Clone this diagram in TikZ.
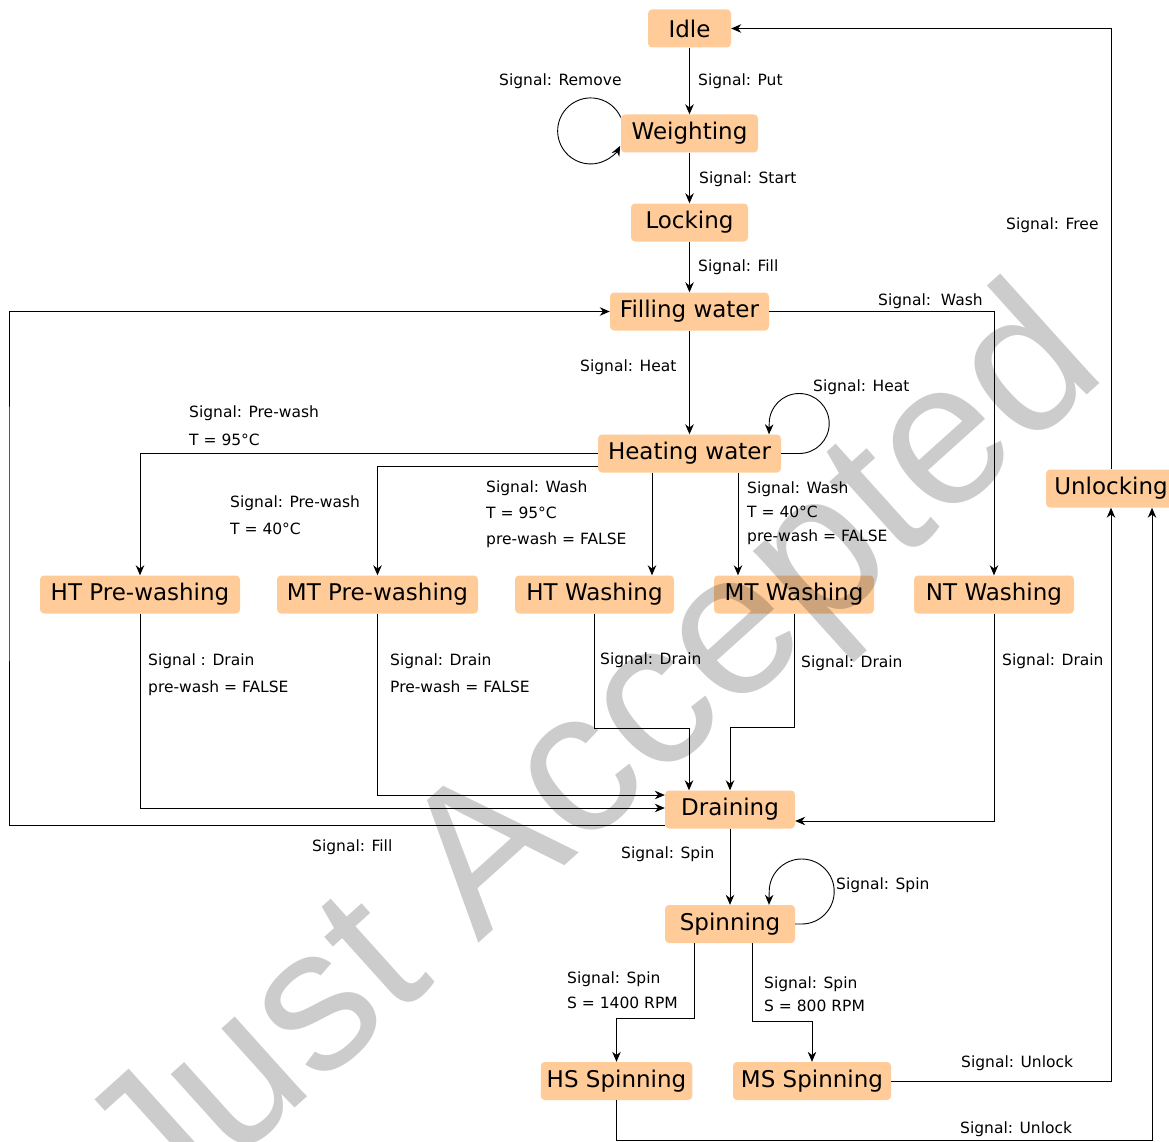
\documentclass[tikz,border=0pt]{standalone}
\usepackage{fontspec}
\setmainfont{DejaVu Sans}
\newfontfamily\wmfont{Liberation Sans}
\usetikzlibrary{arrows.meta}
\definecolor{statefill}{RGB}{255,204,153}

\tikzset{
    state/.style={fill=statefill, rounded corners=4pt, minimum height=38pt,
        inner xsep=6pt, font=\fontsize{23}{27}\selectfont},
    edge/.style={-{Stealth[length=10pt,width=8.5pt]}, line width=0.9pt},
    sig/.style={anchor=north west, inner sep=0pt, align=left,
        font=\fontsize{15.5}{27}\selectfont},
    wm/.style={anchor=base west, inner sep=0pt, rotate=42, text=black,
        text opacity=0.2, font=\wmfont\fontsize{204}{204}\selectfont}
}

\begin{document}
\begin{tikzpicture}[x=1pt,y=1pt]
        \useasboundingbox (0,0) rectangle (1169,-1142);

        \node[state, minimum width=83] (idle) at (689.5,-28.5) {Idle};
        \node[state, minimum width=137] (wei) at (689.5,-133.5) {Weighting};
        \node[state, minimum width=117] (lock) at (689.5,-222.5) {Locking};
        \node[state, minimum width=159] (fill) at (689.5,-311.5) {Filling water};
        \node[state, minimum width=183] (heat) at (689.5,-453.5) {Heating water};
        \node[state, minimum width=200] (htpre) at (140,-594.5) {HT Pre-washing};
        \node[state, minimum width=201] (mtpre) at (377.5,-594.5) {MT Pre-washing};
        \node[state, minimum width=159] (htw) at (594.5,-594.5) {HT Washing};
        \node[state, minimum width=160] (mtw) at (794,-594.5) {MT Washing};
        \node[state, minimum width=160] (ntw) at (994,-594.5) {NT Washing};
        \node[state, minimum width=130] (unl) at (1111,-488.5) {Unlocking};
        \node[state, minimum width=130] (drain) at (730,-809.5) {Draining};
        \node[state, minimum width=130] (spin) at (730,-924) {Spinning};
        \node[state, minimum width=151] (hss) at (616.5,-1081) {HS Spinning};
        \node[state, minimum width=158] (mss) at (812,-1081) {MS Spinning};
        \coordinate (lft) at (9,-500);

        \draw[edge] (idle) -- (wei);
        \draw[edge] ([yshift=16]wei.west) arc[start angle=24, end angle=333, radius=33];
        \draw[edge] (wei) -- (lock);
        \draw[edge] (lock) -- (fill);
        \draw[edge] (fill) -- (heat);
        \draw[edge] (fill.east) -| (ntw.north);
        \draw[edge] ([yshift=-15.5]drain.west) -| (lft) |- (fill.west);
        \draw[edge] (heat.east) -- ++(18,0) arc[start angle=-90, end angle=180, radius=30]
            -- ([xshift=79.5]heat.north);
        \draw[edge] (heat.west) -| (htpre.north);
        \draw[edge] ([yshift=-13]heat.west) -| (mtpre.north);
        \draw[edge] ([xshift=-37.5]heat.south) -- ([xshift=-37.5]heat.south |- htw.north);
        \draw[edge] ([xshift=48.5]heat.south) -- ([xshift=48.5]heat.south |- mtw.north);
        \draw[edge] (htpre.south) |- ([yshift=1.5]drain.west);
        \draw[edge] (mtpre.south) |- ([yshift=14.5]drain.west);
        \draw[edge] (htw.south) -- ++(0,-114.5) -| ([xshift=-41]drain.north);
        \draw[edge] (mtw.south) -- ++(0,-114) -| (drain.north);
        \draw[edge] (ntw.south) |- ([yshift=-11.5]drain.east);
        \draw[edge] (drain) -- (spin);
        \draw[edge] (spin.east) -- ++(6.5,0) arc[start angle=-90, end angle=180, radius=32.5]
            -- ([xshift=39]spin.north);
        \draw[edge] ([xshift=-36]spin.south) -- ++(0,-75) -| (hss.north);
        \draw[edge] ([xshift=22]spin.south) -- ++(0,-78) -| (mss.north);
        \draw[edge] (mss.east) -| (unl.south);
        \draw[edge] (hss.south) -- ++(0,-40) -| ([xshift=41]unl.south);
        \draw[edge] (unl.north) |- (idle.east);

        \node[sig] (s-put) at (698,-73.5) {Signal: Put};
        \node[sig] (s-remove) at (499,-73.5) {Signal: Remove};
        \node[sig] (s-start) at (699,-171.5) {Signal: Start};
        \node[sig] (s-fill) at (698,-259.5) {Signal: Fill};
        \node[sig] (s-free) at (1006,-217.5) {Signal: Free};
        \node[sig] (s-wash) at (878,-293.5) {Signal:\ \ Wash};
        \node[sig] (s-heat) at (580,-359.5) {Signal: Heat};
        \node[sig] (s-heatloop) at (813,-379.5) {Signal: Heat};
        \node[sig, font=\fontsize{15.5}{28}\selectfont] (s-pre95) at (189,-405.5) {Signal: Pre-wash\\T = 95°C};
        \node[sig] (s-pre40) at (230,-495.5) {Signal: Pre-wash\\T = 40°C};
        \node[sig, font=\fontsize{15.5}{26}\selectfont] (s-wash95) at (486,-480.5)
            {Signal: Wash\\T = 95°C\\pre-wash = FALSE};
        \node[sig, font=\fontsize{15.5}{24}\selectfont] (s-wash40) at (747,-481.5)
            {Signal: Wash\\T = 40°C\\pre-wash = FALSE};
        \node[sig] (s-drain1) at (148,-653.5) {Signal : Drain\\pre-wash = FALSE};
        \node[sig] (s-drain2) at (390,-653.5) {Signal: Drain\\Pre-wash = FALSE};
        \node[sig] (s-drain3) at (600,-652.5) {Signal: Drain};
        \node[sig] (s-drain4) at (801,-655.5) {Signal: Drain};
        \node[sig] (s-drain5) at (1002,-653.5) {Signal: Drain};
        \node[sig] (s-refill) at (312,-839.5) {Signal: Fill};
        \node[sig] (s-spin) at (621,-846.5) {Signal: Spin};
        \node[sig] (s-spinloop) at (836,-877.5) {Signal: Spin};
        \node[sig, font=\fontsize{15.5}{25}\selectfont] (s-spin1400) at (567,-971.5) {Signal: Spin\\S = 1400 RPM};
        \node[sig, font=\fontsize{15.5}{23}\selectfont] (s-spin800) at (764,-976.5) {Signal: Spin\\S = 800 RPM};
        \node[sig] (s-unlock1) at (961,-1055.5) {Signal: Unlock};
        \node[sig] (s-unlock2) at (960,-1121.5) {Signal: Unlock};

        \node[wm] (stamp) at (158,-1232) {Just Accepted};
    \end{tikzpicture}
\end{document}
